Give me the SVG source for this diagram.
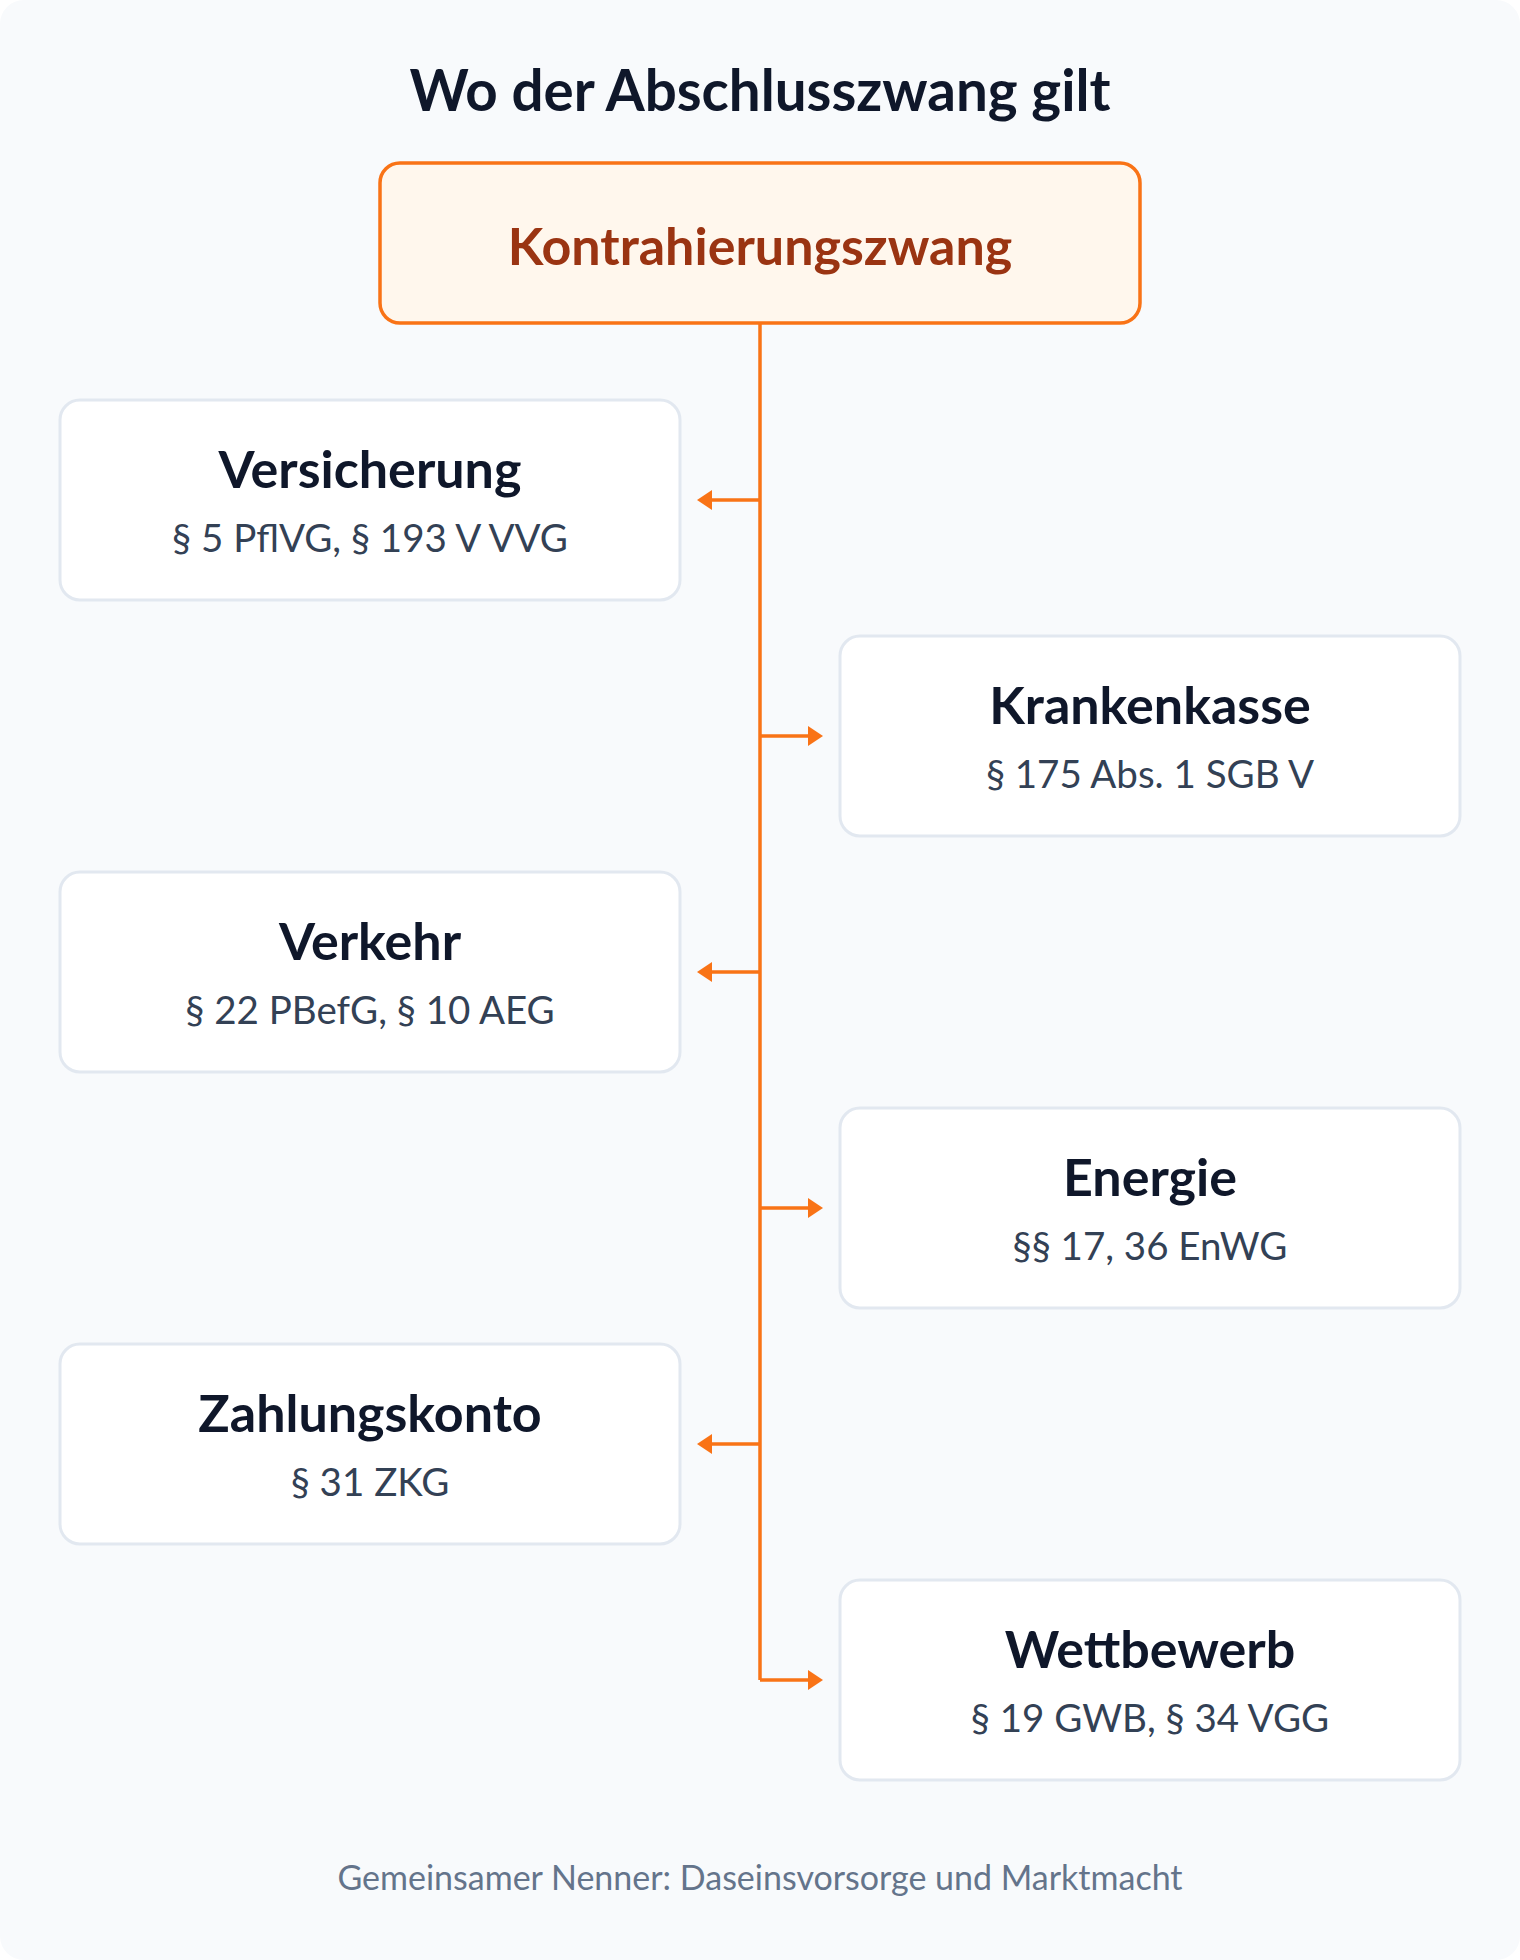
<svg xmlns="http://www.w3.org/2000/svg" width="1520" height="1960" viewBox="0 0 1520 1960">
<defs>
<style>
.bg{fill:#f8fafc}
.node rect{fill:#ffffff;stroke:#e2e8f0;stroke-width:3}
.t{font-family:Lato,"Liberation Sans",sans-serif;font-weight:700;fill:#0f172a;text-anchor:middle;font-size:52px}
.s{font-family:Lato,"Liberation Sans",sans-serif;font-weight:400;fill:#334155;text-anchor:middle;font-size:38.5px}
.c{stroke:#f97316;stroke-width:3.5;fill:none}
</style>
<marker id="ah" viewBox="0 0 15 20" refX="0" refY="10" markerWidth="15" markerHeight="20" orient="auto" markerUnits="userSpaceOnUse">
<path d="M0,0 L15,10 L0,20 z" fill="#f97316"/>
</marker>
</defs>
<rect class="bg" x="0" y="0" width="1520" height="1960" rx="24"/>
<text x="760" y="111" font-family="Lato,'Liberation Sans',sans-serif" font-weight="700" font-size="56.5" fill="#0f172a" text-anchor="middle">Wo der Abschlusszwang gilt</text>
<g id="root">
<rect x="380" y="163" width="760" height="160" rx="20" fill="#fff7ed" stroke="#f97316" stroke-width="3.5"/>
<text x="760" y="265" font-family="Lato,'Liberation Sans',sans-serif" font-weight="700" font-size="52" fill="#9a3412" text-anchor="middle">Kontrahierungszwang</text>
</g>
<g id="connectors">
<path class="c" d="M760,324 V1680"/>
<path class="c" d="M760,500 H712" marker-end="url(#ah)"/>
<path class="c" d="M760,736 H808" marker-end="url(#ah)"/>
<path class="c" d="M760,972 H712" marker-end="url(#ah)"/>
<path class="c" d="M760,1208 H808" marker-end="url(#ah)"/>
<path class="c" d="M760,1444 H712" marker-end="url(#ah)"/>
<path class="c" d="M760,1680 H808" marker-end="url(#ah)"/>
</g>
<g id="n1" class="node"><rect x="60" y="400" width="620" height="200" rx="20"/><text class="t" x="370" y="488">Versicherung</text><text class="s" x="370" y="552">§ 5 PflVG, § 193 V VVG</text></g>
<g id="n2" class="node"><rect x="840" y="636" width="620" height="200" rx="20"/><text class="t" x="1150" y="724">Krankenkasse</text><text class="s" x="1150" y="788">§ 175 Abs. 1 SGB V</text></g>
<g id="n3" class="node"><rect x="60" y="872" width="620" height="200" rx="20"/><text class="t" x="370" y="960">Verkehr</text><text class="s" x="370" y="1024">§ 22 PBefG, § 10 AEG</text></g>
<g id="n4" class="node"><rect x="840" y="1108" width="620" height="200" rx="20"/><text class="t" x="1150" y="1196">Energie</text><text class="s" x="1150" y="1260">§§ 17, 36 EnWG</text></g>
<g id="n5" class="node"><rect x="60" y="1344" width="620" height="200" rx="20"/><text class="t" x="370" y="1432">Zahlungskonto</text><text class="s" x="370" y="1496">§ 31 ZKG</text></g>
<g id="n6" class="node"><rect x="840" y="1580" width="620" height="200" rx="20"/><text class="t" x="1150" y="1668">Wettbewerb</text><text class="s" x="1150" y="1732">§ 19 GWB, § 34 VGG</text></g>
<text x="760" y="1890" font-family="Lato,'Liberation Sans',sans-serif" font-size="34" fill="#64748b" text-anchor="middle">Gemeinsamer Nenner: Daseinsvorsorge und Marktmacht</text>
</svg>
